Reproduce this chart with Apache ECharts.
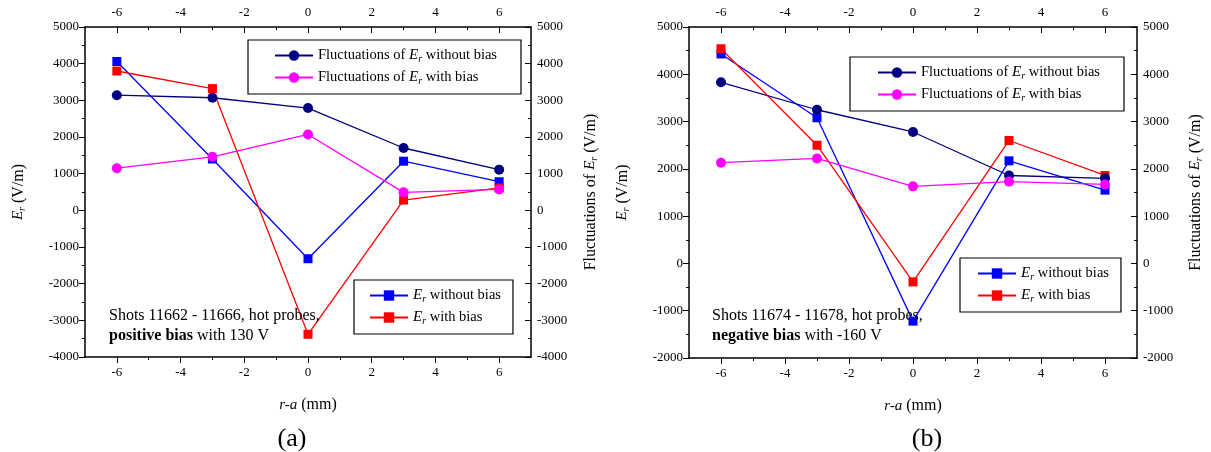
<!DOCTYPE html>
<html>
<head>
<meta charset="utf-8">
<script src="https://cdn.jsdelivr.net/npm/echarts@6/dist/echarts.min.js"></script>
<style>
html, body { margin: 0; padding: 0; background: #fff; }
#main { width: 1211px; height: 452px; }
</style>
</head>
<body>
<div id="main"></div>
<script>
// r-a positions (mm)
const xPos = [-6, -3, 0, 3, 6];
const xMajor = [-6, -4, -2, 0, 2, 4, 6];
const xMinor = [-5, -3, -1, 1, 3, 5];

// (a) positive bias 130 V
const erNoBiasA = [4060, 1400, -1320, 1340, 780];
const erBiasA = [3800, 3320, -3380, 280, 610];
const flucNoBiasA = [3140, 3070, 2790, 1700, 1110];
const flucBiasA = [1150, 1460, 2070, 490, 570];

// (b) negative bias -160 V
const erNoBiasB = [4430, 3080, -1220, 2170, 1550];
const erBiasB = [4540, 2500, -390, 2600, 1860];
const flucNoBiasB = [3830, 3250, 2780, 1860, 1800];
const flucBiasB = [2130, 2220, 1630, 1730, 1670];

// y ranges
const yRangeA = [-4000, 5000];
const yRangeB = [-2000, 5000];

const FONT = '"Liberation Serif", "DejaVu Serif", serif';
const NAVY = '#000080', MAGENTA = '#ff00ff', BLUE = '#0000ff', RED = '#ff0000';

const rich = {
        i: { fontStyle: 'italic', fontFamily: FONT, fontSize: 15, color: '#000' },
        s: { fontStyle: 'italic', fontFamily: FONT, fontSize: 10, color: '#000', verticalAlign: 'bottom', padding: [7, 0, 0, 0] },
        b: { fontWeight: 'bold', fontFamily: FONT, fontSize: 16, color: '#000' }
};

const pairs = (ys) => xPos.map((x, i) => [x, ys[i]]);

// x axes: labelled major ticks + an overlapped axis for odd minor ticks
const xAxes = (grid) => {
        let base = {
                type: 'value', gridIndex: grid, min: -7, max: 7,
                splitLine: { show: false },
                axisLine: { onZero: false, lineStyle: { color: '#000', width: 1.5 } }
        };
        return [
                Object.assign({}, base, {
                        position: 'bottom',
                        name: '{i|r-a} (mm)', nameLocation: 'middle', nameGap: 40,
                        nameTextStyle: { fontFamily: FONT, fontSize: 16, color: '#000', rich: rich },
                        axisTick: { customValues: xMajor, length: 6, lineStyle: { color: '#000' } },
                        axisLabel: { customValues: xMajor, fontFamily: FONT, fontSize: 13, color: '#000', margin: 9 }
                }),
                Object.assign({}, base, {
                        position: 'top',
                        axisTick: { customValues: xMajor, inside: true, length: 6, lineStyle: { color: '#000' } },
                        axisLabel: { customValues: xMajor, fontFamily: FONT, fontSize: 13, color: '#000', margin: 8 }
                }),
                Object.assign({}, base, {
                        position: 'bottom', axisLine: { show: false, onZero: false },
                        axisTick: { customValues: xMinor, length: 3, lineStyle: { color: '#000' } },
                        axisLabel: { show: false }
                }),
                Object.assign({}, base, {
                        position: 'top', axisLine: { show: false, onZero: false },
                        axisTick: { customValues: xMinor, inside: true, length: 3, lineStyle: { color: '#000' } },
                        axisLabel: { show: false }
                })
        ];
};

const yAxis = (grid, range, pos, name, gap) => ({
        type: 'value', gridIndex: grid, position: pos,
        min: range[0], max: range[1], interval: 1000,
        name: name, nameLocation: 'middle', nameGap: gap,
        nameTextStyle: { fontFamily: FONT, fontSize: 16, color: '#000', rich: rich },
        splitLine: { show: false },
        axisLine: { show: true, onZero: false, lineStyle: { color: '#000', width: 1.5 } },
        axisTick: { inside: pos === 'right', length: 6, lineStyle: { color: '#000' } },
        minorTick: { show: true, splitNumber: 2, length: 3, lineStyle: { color: '#000' } },
        axisLabel: { fontFamily: FONT, fontSize: 13, color: '#000', margin: 6, formatter: (v) => String(v) }
});

const lineSeries = (name, color, symbol, size, grid, yIdx, ys) => ({
        name: name, type: 'line',
        xAxisIndex: grid * 4, yAxisIndex: yIdx,
        data: pairs(ys),
        symbol: symbol, symbolSize: size,
        lineStyle: { color: color, width: 1.3 },
        itemStyle: { color: color },
        animation: false
});

const legendNames = {
        flucNo: 'Fluctuations of {i|E}{s|r} without bias',
        flucBias: 'Fluctuations of {i|E}{s|r} with bias',
        erNo: '{i|E}{s|r} without bias',
        erBias: '{i|E}{s|r} with bias'
};

const legend = (names, left, top, pad) => ({
        data: names, left: left, top: top, orient: 'vertical',
        itemWidth: 38, itemHeight: 13, itemGap: 6,
        padding: pad, borderColor: '#000', borderWidth: 1.2,
        selectedMode: false,
        formatter: (n) => legendNames[n],
        textStyle: { fontFamily: FONT, fontSize: 14.5, color: '#000', rich: rich }
});

let option = {
        backgroundColor: '#fff',
        animation: false,
        grid: [
                { left: 85, top: 27, width: 446, height: 330 },
                { left: 689, top: 27, width: 448, height: 331 }
        ],
        xAxis: xAxes(0).concat(xAxes(1)),
        yAxis: [
                yAxis(0, yRangeA, 'left', '{i|E}{s|r} (V/m)', 58),
                yAxis(0, yRangeA, 'right', 'Fluctuations of {i|E}{s|r} (V/m)', 51),
                yAxis(1, yRangeB, 'left', '{i|E}{s|r} (V/m)', 58),
                yAxis(1, yRangeB, 'right', 'Fluctuations of {i|E}{s|r} (V/m)', 50)
        ],
        legend: [
                legend(['flucNo', 'flucBias'], 248, 40, [8, 24, 8, 26]),
                legend(['erNo', 'erBias'], 354, 280, [8, 12, 8, 15]),
                legend(['flucNo', 'flucBias'], 850, 57, [8, 24, 8, 27]),
                legend(['erNo', 'erBias'], 960, 258, [8, 12, 8, 17])
        ],
        title: [
                {
                        text: 'Shots 11662 - 11666, hot probes,\n{b|positive bias} with 130 V',
                        left: 104, top: 301,
                        textStyle: { fontFamily: FONT, fontSize: 16, fontWeight: 'normal', color: '#000', lineHeight: 20, rich: rich }
                },
                {
                        text: 'Shots 11674 - 11678, hot probes,\n{b|negative bias} with -160 V',
                        left: 707, top: 301,
                        textStyle: { fontFamily: FONT, fontSize: 16, fontWeight: 'normal', color: '#000', lineHeight: 20, rich: rich }
                },
                {
                        text: '(a)', left: 287, top: 421, textAlign: 'center',
                        textStyle: { fontFamily: FONT, fontSize: 26, fontWeight: 'normal', color: '#000' }
                },
                {
                        text: '(b)', left: 922, top: 421, textAlign: 'center',
                        textStyle: { fontFamily: FONT, fontSize: 26, fontWeight: 'normal', color: '#000' }
                }
        ],
        series: [
                //(a)
                lineSeries('erNo', BLUE, 'rect', 9, 0, 0, erNoBiasA),
                lineSeries('erBias', RED, 'rect', 9, 0, 0, erBiasA),
                lineSeries('flucNo', NAVY, 'circle', 10, 0, 1, flucNoBiasA),
                lineSeries('flucBias', MAGENTA, 'circle', 10, 0, 1, flucBiasA),
                //(b)
                lineSeries('erNo', BLUE, 'rect', 9, 1, 2, erNoBiasB),
                lineSeries('erBias', RED, 'rect', 9, 1, 2, erBiasB),
                lineSeries('flucNo', NAVY, 'circle', 10, 1, 3, flucNoBiasB),
                lineSeries('flucBias', MAGENTA, 'circle', 10, 1, 3, flucBiasB)
        ]
};

let chart = echarts.init(document.getElementById('main'), null, { renderer: 'canvas' });
chart.setOption(option);
</script>
</body>
</html>
